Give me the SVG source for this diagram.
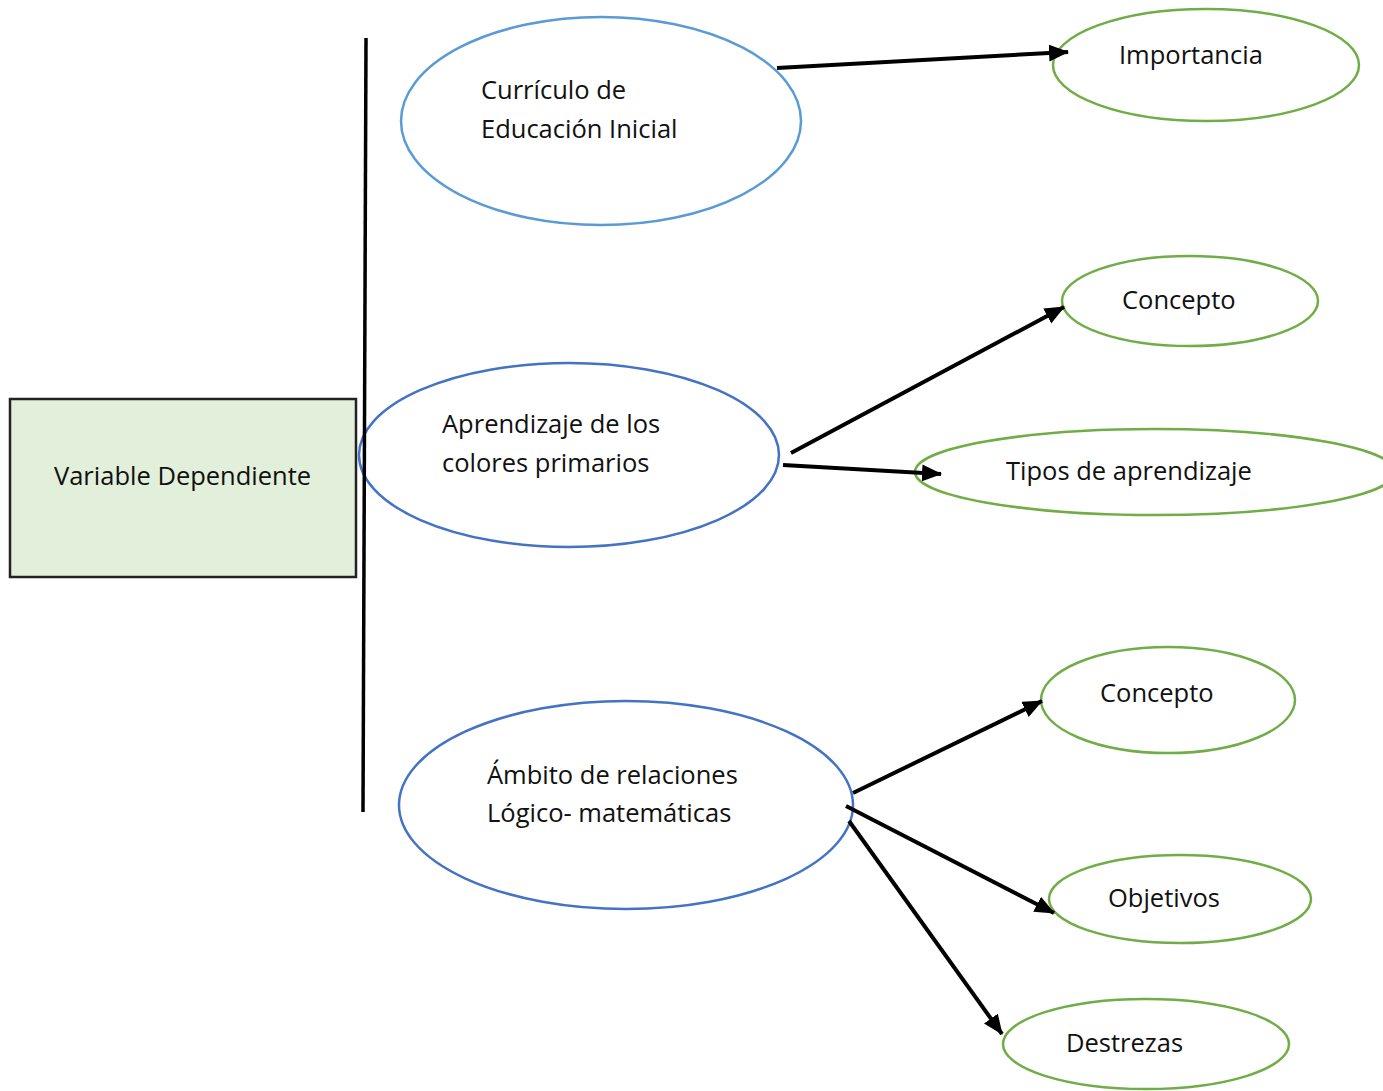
<svg xmlns="http://www.w3.org/2000/svg" width="1383" height="1091" viewBox="0 0 1383 1091">
<defs>
<style>
text{font-family:"Open Sans","Noto Sans","Liberation Sans",sans-serif;font-size:25.5px;fill:#111}
.blue1{fill:#fff;stroke:#5b9bd5;stroke-width:2.5}
.blue2{fill:#fff;stroke:#4472c4;stroke-width:2.5}
.green{fill:#fff;stroke:#70ad47;stroke-width:2.5}
.conn{stroke:#000;stroke-width:4;fill:none;marker-end:url(#ah)}
</style>
<marker id="ah" markerUnits="userSpaceOnUse" markerWidth="20" markerHeight="18" refX="19" refY="8.5" orient="auto">
<path d="M0,0 L20,8.5 L0,17 z" fill="#000"/>
</marker>
</defs>
<rect width="1383" height="1091" fill="#fff"/>
<g id="root">
<rect x="10" y="399" width="346" height="178" fill="#e2efda" stroke="#222" stroke-width="2.5"/>
<text x="54" y="485">Variable Dependiente</text>
</g>
<g id="n1">
<ellipse class="blue1" cx="601" cy="121" rx="200" ry="104"/>
<text x="481" y="99">Currículo de</text>
<text x="481" y="138">Educación Inicial</text>
</g>
<g id="n2">
<ellipse class="blue2" cx="569" cy="455" rx="210" ry="92"/>
<text x="442" y="433">Aprendizaje de los</text>
<text x="442" y="472">colores primarios</text>
</g>
<g id="n3">
<ellipse class="blue2" cx="626" cy="805" rx="227" ry="104"/>
<text x="487" y="784">Ámbito de relaciones</text>
<text x="487" y="822">Lógico- matemáticas</text>
</g>
<g id="importancia">
<ellipse class="green" cx="1206" cy="65" rx="153" ry="56"/>
<text x="1119" y="64">Importancia</text>
</g>
<g id="concepto1">
<ellipse class="green" cx="1190" cy="301" rx="128" ry="45"/>
<text x="1122" y="309">Concepto</text>
</g>
<g id="tipos">
<ellipse class="green" cx="1155" cy="472" rx="240" ry="43"/>
<text x="1006" y="480">Tipos de aprendizaje</text>
</g>
<g id="concepto2">
<ellipse class="green" cx="1168" cy="700" rx="127" ry="53"/>
<text x="1100" y="702">Concepto</text>
</g>
<g id="objetivos">
<ellipse class="green" cx="1180" cy="899" rx="131" ry="44"/>
<text x="1108" y="907">Objetivos</text>
</g>
<g id="destrezas">
<ellipse class="green" cx="1146" cy="1044" rx="143" ry="45"/>
<text x="1066" y="1052">Destrezas</text>
</g>
<g id="connectors">
<line x1="366" y1="38" x2="363" y2="812" stroke="#000" stroke-width="3.5"/>
<line class="conn" x1="777" y1="68" x2="1068" y2="52"/>
<line class="conn" x1="791" y1="453" x2="1064" y2="307"/>
<line class="conn" x1="783" y1="465" x2="941" y2="474"/>
<line class="conn" x1="853" y1="793" x2="1042" y2="701"/>
<line class="conn" x1="846" y1="806" x2="1054" y2="913"/>
<line class="conn" x1="849" y1="821" x2="1002" y2="1034"/>
</g>
</svg>
